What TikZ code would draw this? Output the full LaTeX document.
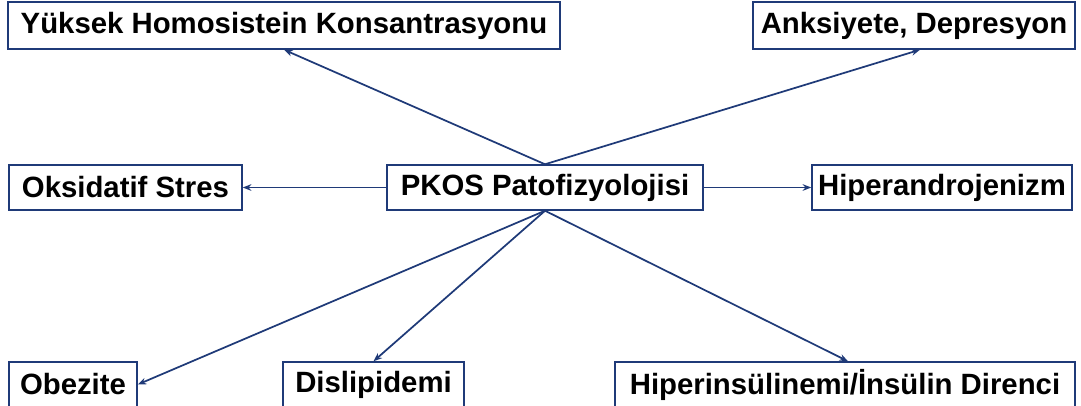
\documentclass[tikz,border=0pt]{standalone}
\usepackage{fontspec}
\setmainfont{Liberation Sans}
\usetikzlibrary{arrows.meta,calc}
\definecolor{navy}{HTML}{1F3A78}
\tikzset{
  box/.style={draw=navy,line width=1.1pt,fill=white,inner sep=0pt,anchor=center,
    font=\fontsize{22}{26}\selectfont\bfseries,text=black},
  conn/.style={draw=navy,line width=1.3pt,-{Stealth[length=6.5pt,width=5pt]}}
}
\begin{document}
\begin{tikzpicture}[x=0.75pt,y=-0.75pt]
\useasboundingbox (0,0) rectangle (1081,405);
\clip (0,0) rectangle (1081,405);
\node[box,minimum width=552*0.75pt,minimum height=47*0.75pt] (Y) at (284,25.5) {Yüksek Homosistein Konsantrasyonu};
\node[box,minimum width=322*0.75pt,minimum height=47*0.75pt] (A) at (914,25.5) {Anksiyete, Depresyon};
\node[box,minimum width=233*0.75pt,minimum height=45*0.75pt] (O) at (125.5,187.5) {Oksidatif Stres};
\node[box,minimum width=316*0.75pt,minimum height=45*0.75pt] (P) at (545,187.5) {PKOS Patofizyolojisi};
\node[box,minimum width=260*0.75pt,minimum height=45*0.75pt] (H) at (942,187.5) {Hiperandrojenizm};
\node[box,minimum width=128*0.75pt,minimum height=45*0.75pt] (B) at (73,384.5) {Obezite};
\node[box,minimum width=181*0.75pt,minimum height=45*0.75pt] (D) at (373.5,384.5) {Dislipidemi};
\node[box,minimum width=460*0.75pt,minimum height=45*0.75pt] (I) at (845,384.5) {Hiperinsülinemi/İnsülin Direnci};
\coordinate (At) at ($(A.south)+(6,0)$);
\coordinate (It) at ($(I.north)+(3,0)$);
\path[conn] (P.north) -- (Y.south);
\path[conn] (P.north) -- (At);
\path[conn] (P.west) -- (O.east);
\path[conn] (P.east) -- (H.west);
\path[conn] (P.south) -- (B.east);
\path[conn] (P.south) -- (D.north);
\path[conn] (P.south) -- (It);
\end{tikzpicture}
\end{document}
